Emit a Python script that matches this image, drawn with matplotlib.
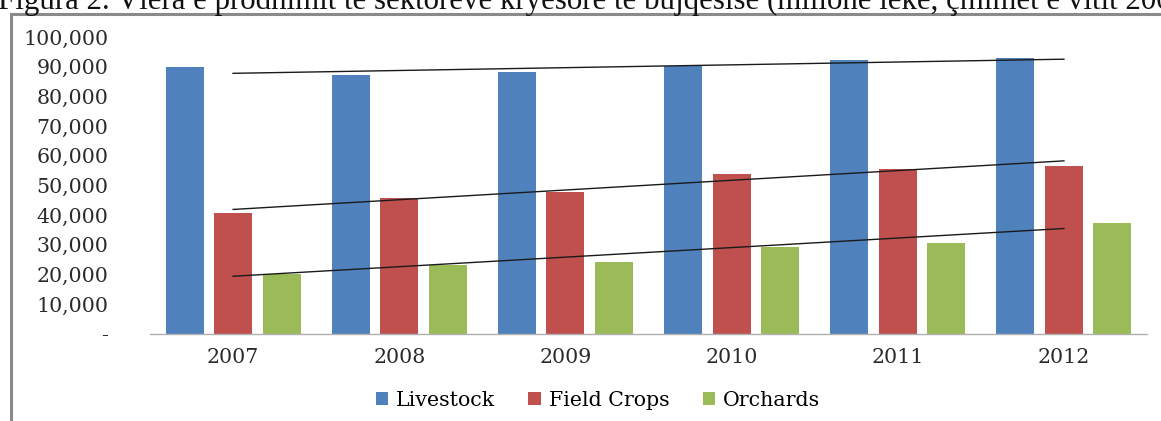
import matplotlib.pyplot as plt
import numpy as np
from matplotlib.ticker import FuncFormatter
from matplotlib.patches import Rectangle

years = ['2007', '2008', '2009', '2010', '2011', '2012']
livestock = [89800, 87200, 88300, 90300, 92300, 93000]
field_crops = [40800, 45900, 47900, 53800, 55600, 56700]
orchards = [20200, 23200, 24300, 29400, 30500, 37300]

series = [
    ('Livestock', livestock, '#4F81BD'),
    ('Field Crops', field_crops, '#C0504D'),
    ('Orchards', orchards, '#9BBB59'),
]

title = ('Figura 2. Vlera e prodhimit të sektorëve kryesorë të bujqësisë '
         '(milionë lekë, çmimet e vitit 2000)')

W, H = 1161, 421
fig = plt.figure(figsize=(W / 100, H / 100), dpi=100)
fig.patch.set_facecolor('white')

# caption of the document, runs past the top and right edges
fig.text(-2 / W, 1 - 8.5 / H, title, family='Liberation Serif', fontsize=22.2,
         ha='left', va='baseline', color='#111111')

# chart frame (left and top edges)
fig.add_artist(Rectangle((10.5 / W, -0.05), 1.2, 1 - 14 / H + 0.05,
                         transform=fig.transFigure, fill=False,
                         edgecolor='#8a8a8a', linewidth=2.2))

ax = fig.add_axes([150 / W, 87 / H, (1147 - 150) / W, (384 - 87) / H])
x = np.arange(len(years))
offsets = [-0.292, 0.0, 0.292]
width = 0.229
font = 'DejaVu Serif'

handles = []
for (name, vals, col), off in zip(series, offsets):
    b = ax.bar(x + off, vals, width, color=col, label=name, zorder=2)
    handles.append(b)
    # linear trend line across the categories
    k, c = np.polyfit(x, vals, 1)
    ax.plot([x[0], x[-1]], [k * x[0] + c, k * x[-1] + c], color='#1a1a1a',
            linewidth=1.0, zorder=3)

ax.set_xlim(-0.5, len(years) - 0.5)
ax.set_ylim(0, 100000)
ax.set_yticks(np.arange(0, 100001, 10000))
ax.yaxis.set_major_formatter(FuncFormatter(lambda v, p: '-' if v == 0 else f'{int(v):,}'))
ax.set_xticks(x)
ax.set_xticklabels(years)
for lab in ax.get_xticklabels() + ax.get_yticklabels():
    lab.set_family(font)
    lab.set_fontsize(14.8)
    lab.set_color('#2a2a2a')
ax.tick_params(axis='both', length=0)
ax.tick_params(axis='y', pad=30)
ax.tick_params(axis='x', pad=10)
for s in ['top', 'right', 'left']:
    ax.spines[s].set_visible(False)
ax.spines['bottom'].set_color('#b0b0b0')
ax.spines['bottom'].set_linewidth(1.0)

fig.legend(handles=handles, loc='center', bbox_to_anchor=(598 / W, 1 - 400 / H),
           ncol=3, frameon=False, handlelength=0.6, handleheight=0.6,
           handletextpad=0.4, columnspacing=1.6,
           prop={'family': font, 'size': 14.8})

fig.savefig('out.png', dpi=100)
